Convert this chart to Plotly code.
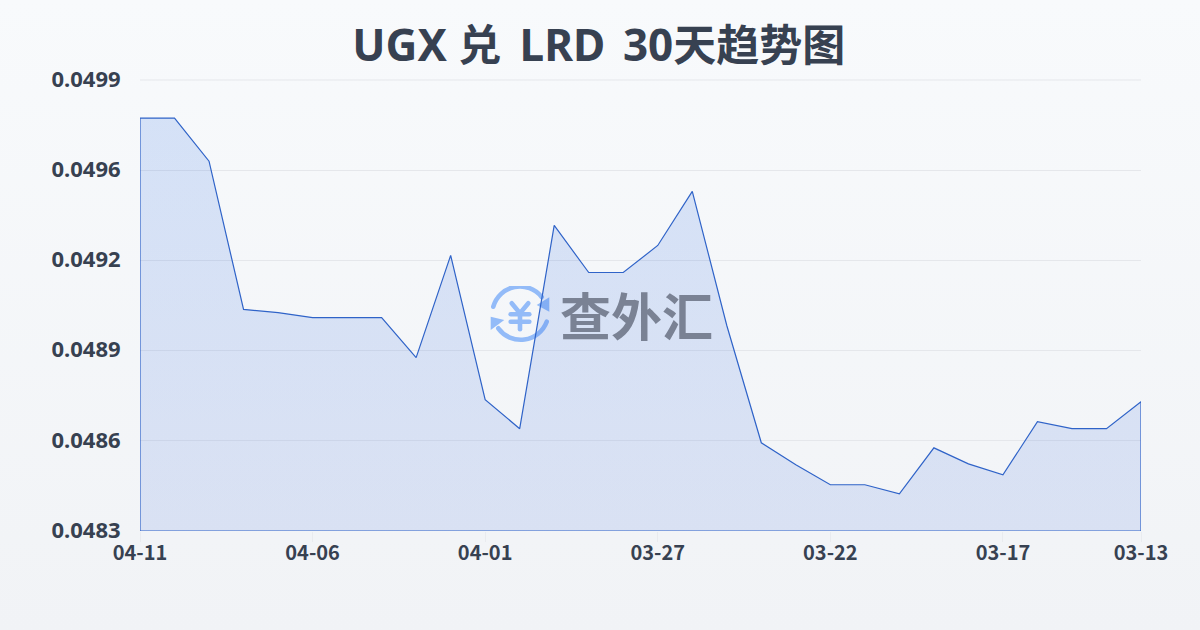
import base64
import plotly.graph_objects as go

dates = ["04-11","04-10","04-09","04-08","04-07","04-06","04-05","04-04","04-03","04-02",
         "04-01","03-31","03-30","03-29","03-28","03-27","03-26","03-25","03-24","03-23",
         "03-22","03-21","03-20","03-19","03-18","03-17","03-16","03-15","03-14","03-13"]
rates = [0.049765,0.049765,0.049612,0.049086,0.049075,0.049057,0.049057,0.049057,0.048915,0.049278,
         0.048766,0.048663,0.049384,0.049217,0.049217,0.049313,0.049505,0.049029,0.048613,0.048535,
         0.048464,0.048464,0.048432,0.048595,0.048538,0.048499,0.048688,0.048663,0.048663,0.048759]
x_ticks = ["04-11","04-06","04-01","03-27","03-22","03-17","03-13"]
y_ticks = [0.0483,0.04862,0.04894,0.04926,0.04958,0.0499]
y_labels = ["0.0483","0.0486","0.0489","0.0492","0.0496","0.0499"]
watermark = "查外汇"

FONT = "'Noto Sans','Noto Sans CJK SC',sans-serif"
INK = "#374151"

def cjk(s):
    return f'<span style="font-size:43px">{s}</span>'

def pad(px):
    return f'<span style="font-size:{px}px"> </span>'

title_html = "<b>UGX " + cjk("兑") + " " + pad(26) + "LRD " + pad(24) + "30" + cjk("天趋势图") + "</b>"

def uri(svg):
    return "data:image/svg+xml;base64," + base64.b64encode(svg.encode()).decode()

bg_svg = ('<svg xmlns="http://www.w3.org/2000/svg" width="1200" height="630" preserveAspectRatio="none">'
          '<defs><linearGradient id="g" x1="0" y1="0" x2="0" y2="1"><stop offset="0" stop-color="#f8fafc"/>'
          '<stop offset="1" stop-color="#f1f3f6"/></linearGradient></defs>'
          '<rect width="1200" height="630" fill="url(#g)"/></svg>')
icon_svg = ('<svg xmlns="http://www.w3.org/2000/svg" viewBox="0 0 60 60" width="60" height="60">'
            '<g fill="none" stroke="#93bbf8" stroke-width="4.6" stroke-linecap="round" stroke-linejoin="round">'
            '<path d="M3.3 20.7 A27.7 27.7 0 0 1 51.7 11"/><path d="M56.7 35.7 A27.7 27.7 0 0 1 8.3 42.3"/>'
            '<path d="M21.7 17.3 L30 27.3 L38.3 17.3"/><path d="M20.7 28.3 H39.3"/><path d="M20.7 35.7 H39.3"/><path d="M30 27.3 V43.3"/></g>'
            '<path d="M59.3 11.3 V25.7 L46.7 19 Z" fill="#93bbf8"/><path d="M0.7 30.7 V44 L14.3 34 Z" fill="#93bbf8"/></svg>')

n = len(dates)
base = y_ticks[0]
fig = go.Figure()
fig.add_trace(go.Scatter(
    x=list(range(n)) + [n - 1, 0, 0], y=rates + [base, base, rates[0]], mode="lines",
    line=dict(color="#2f63c8", width=1.2),
    fill="toself",
    fillgradient=dict(type="vertical",
                      colorscale=[[0, "rgba(35,87,215,0.12)"], [1, "rgba(37,105,225,0.16)"]]),
    hoverinfo="skip", showlegend=False, cliponaxis=False))

W, H = 1200, 630
L, R, T, B = 140, 1141, 80, 531
pw, ph = R - L, B - T

fig.update_layout(
    width=W, height=H, margin=dict(l=L, r=W - R, t=T, b=H - B),
    paper_bgcolor="#f8fafc", plot_bgcolor="rgba(0,0,0,0)",
    font=dict(family=FONT, color=INK),
    title=dict(text=title_html, x=0.499, xanchor="center", y=1 - 46/H, yanchor="middle",
               font=dict(size=44, color=INK, family=FONT)),
    xaxis=dict(range=[0, n - 1], tickmode="array",
               tickvals=[dates.index(d) for d in x_ticks], ticktext=[f"<b>{d}</b>" for d in x_ticks],
               tickfont=dict(size=20, color=INK, family="'Noto Sans CJK SC'"), showgrid=False, zeroline=False,
               showline=False, ticks="outside", ticklen=10, tickcolor="#e9ebef", tickwidth=1,
               ticklabelstandoff=-6),
    yaxis=dict(range=[y_ticks[0], y_ticks[-1]], tickmode="array", tickvals=y_ticks,
               ticktext=[f"<b>{t}</b>" for t in y_labels], tickfont=dict(size=22, color=INK, family="'Noto Sans'"),
               showgrid=True, gridcolor="#e5e7eb", gridwidth=1, zeroline=False, showline=False,
               ticks="outside", ticklen=14, tickcolor="rgba(0,0,0,0)", ticklabelshift=-1),
    shapes=[dict(type="line", xref="paper", yref="paper", x0=0, x1=1, y0=1, y1=1,
                 line=dict(color="#e5e7eb", width=1), layer="below")],
    images=[
        dict(source=uri(bg_svg), xref="paper", yref="paper", x=-L/pw, y=1 + T/ph, xanchor="left", yanchor="top",
             sizex=W/pw, sizey=H/ph, sizing="stretch", layer="below"),
        dict(source=uri(icon_svg), xref="paper", yref="paper", x=(490-L)/pw, y=(B-286)/ph, xanchor="left", yanchor="top",
             sizex=60/pw, sizey=60/ph, sizing="stretch", layer="below"),
    ],
    annotations=[dict(text=f"<b>{watermark}</b>", xref="paper", yref="paper",
                      x=(636-L)/pw, y=(B-313.5)/ph, xanchor="center", yanchor="middle", showarrow=False,
                      font=dict(size=51, color="#7a8294", family="'Noto Sans CJK SC'"))],
)
fig.write_html("out.html", config={"displayModeBar": False},
               post_script="document.body.style.margin='0';")
